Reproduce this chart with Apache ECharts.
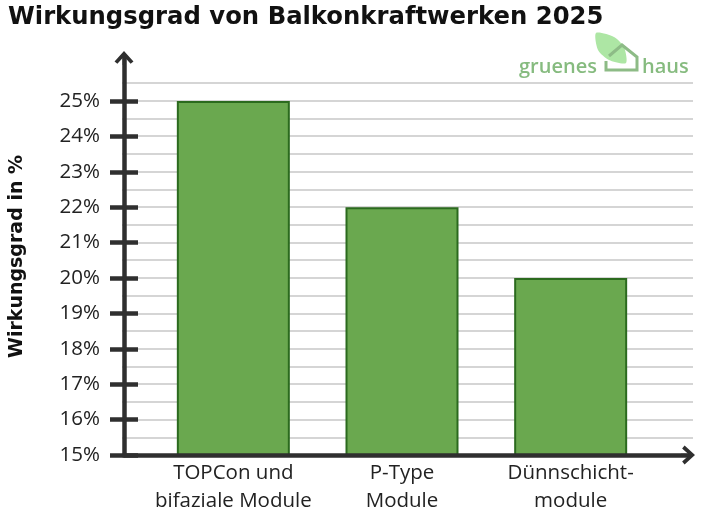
<!DOCTYPE html>
<html>
<head>
<meta charset="utf-8">
<script src="https://cdn.jsdelivr.net/npm/echarts@6/dist/echarts.min.js"></script>
<style>
html,body{margin:0;padding:0;background:#fff;}
#chart{width:702px;height:515px;}
</style>
</head>
<body>
<div id="chart"></div>
<script>
// ---- data ----
const categories = ['TOPCon und\nbifaziale Module', 'P-Type\nModule', 'Dünnschicht-\nmodule'];
const efficiency = [25, 22, 20];
const yMin = 15;
const yMax = 25;
const yTickStep = 1;
const gridStep = 0.5;
const gridTop = 25.5;
const arrowTop = 26.215;
const titleText = 'Wirkungsgrad von Balkonkraftwerken 2025';
const yAxisName = 'Wirkungsgrad in %';

const axisColor = '#2f2f2f';
const labelFont = 'Open Sans';
const arrowPath = 'path://M50,0 L100,55 L85,68 L57,37 L57,74 L43,74 L43,37 L15,68 L0,55 Z';

const chart = echarts.init(document.getElementById('chart'), null, {renderer: 'canvas'});
chart.setOption({
  animation: false,
  backgroundColor: '#ffffff',
  title: {
    text: titleText,
    left: 3, top: 1,
    textStyle: {fontSize: 24.3, fontWeight: 'bold', fontFamily: 'DejaVu Sans', color: '#111'}
  },
  grid: [
    {left: 122, right: 14, top: 58, bottom: 60},
    {left: 122, right: 9, top: 83, bottom: 60},
    {left: 149, right: 47, top: 101, bottom: 60}
  ],
  xAxis: [
    {
      gridIndex: 0, type: 'value', min: 0, max: 1, z: 5,
      axisLine: {show: true, onZero: false, symbol: ['none', arrowPath], symbolSize: [19, 14],
        lineStyle: {color: axisColor, width: 4.5}},
      axisTick: {show: false}, axisLabel: {show: false}, splitLine: {show: false}
    },
    {
      gridIndex: 1, type: 'value', min: 0, max: 1, show: false
    },
    {
      gridIndex: 2, type: 'category', data: categories,
      axisLine: {show: false}, axisTick: {show: false},
      axisLabel: {interval: 0, fontSize: 20.5, fontFamily: labelFont, fontWeight: 400, color: '#222', lineHeight: 28, margin: 4}
    }
  ],
  yAxis: [
    {
      gridIndex: 0, type: 'value', min: yMin, max: arrowTop, z: 5,
      name: yAxisName, nameLocation: 'middle', nameRotate: 90, nameGap: 97,
      nameTextStyle: {fontSize: 19, fontWeight: 'bold', fontFamily: 'DejaVu Sans', color: '#111'},
      axisLine: {show: true, onZero: false, symbol: ['none', arrowPath], symbolSize: [19, 14],
        lineStyle: {color: axisColor, width: 4.5}},
      axisTick: {show: false}, axisLabel: {show: false}, splitLine: {show: false}
    },
    {
      gridIndex: 1, type: 'value', min: yMin, max: gridTop, interval: gridStep,
      axisLine: {show: false}, axisTick: {show: false}, axisLabel: {show: false},
      splitLine: {show: true, lineStyle: {color: '#d5d5d5', width: 2}}
    },
    {
      gridIndex: 2, type: 'value', min: yMin, max: yMax, interval: yTickStep, offset: 11,
      axisLine: {show: false},
      axisTick: {show: true, length: 28, lineStyle: {color: axisColor, width: 4.5}},
      axisLabel: {formatter: '{value}%', margin: 38, fontSize: 20.5, fontFamily: labelFont, fontWeight: 400, color: '#222'},
      splitLine: {show: false}
    }
  ],
  series: [{
    type: 'bar',
    xAxisIndex: 2, yAxisIndex: 2,
    data: efficiency,
    barWidth: 113,
    itemStyle: {color: '#6aa84f', borderColor: '#2b6a1e', borderWidth: 2}
  }],
  graphic: [
    {type: 'polygon', shape: {points: [[596,33],[614,37],[624,47],[626,63],[609,60],[598,50]], smooth: 0.25},
      style: {fill: '#ade6a4'}, z: 1},
    {type: 'polyline', shape: {points: [[606,61],[606,70],[637,70],[637,57],[622,45],[609,56]]},
      style: {stroke: '#8dbb86', lineWidth: 3, fill: null}, z: 2},
    {type: 'text', x: 519, y: 57, style: {text: 'gruenes', font: '600 20px "Open Sans"', fill: '#86bb7f'}, z: 2},
    {type: 'text', x: 642, y: 57, style: {text: 'haus', font: '600 20px "Open Sans"', fill: '#86bb7f'}, z: 2}
  ]
});
</script>
</body>
</html>
